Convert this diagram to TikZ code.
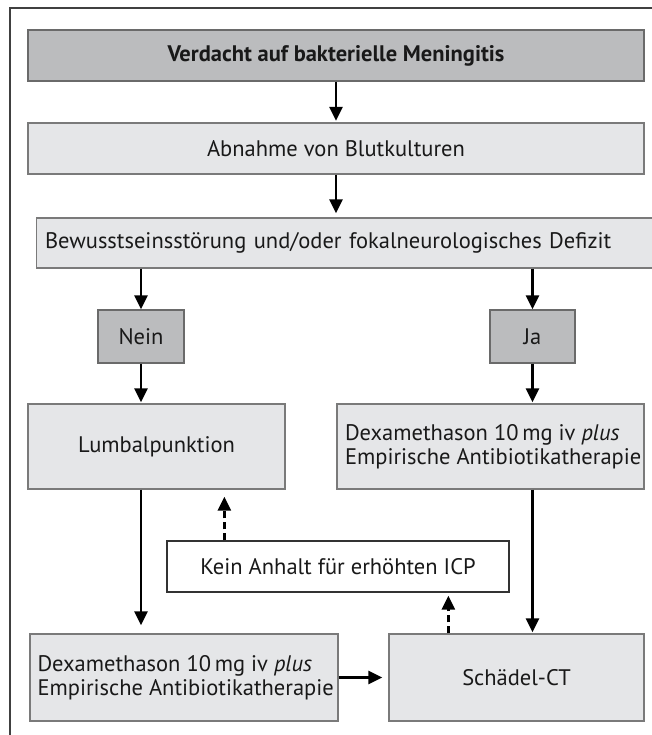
\documentclass[tikz,border=0pt]{standalone}
\usepackage{fontspec}
\setmainfont{PT Sans}
\usetikzlibrary{arrows.meta}
\definecolor{darkfill}{HTML}{BBBCBE}
\definecolor{lightfill}{HTML}{E5E6E8}
\definecolor{boxline}{HTML}{7A7A7A}
\definecolor{darkline}{HTML}{6A6A6A}
\tikzset{
  basebox/.style={draw=boxline, line width=1.3pt, inner sep=0pt, font=\fontsize{22.5}{24}\selectfont, text=black!90},
  darkbox/.style={basebox, fill=darkfill, draw=darkline},
  lightbox/.style={basebox, fill=lightfill},
  whitebox/.style={basebox, fill=white, draw=black!80},
  arr/.style={line width=2.6pt, -{Triangle[length=14pt,width=13pt]}},
  dasharr/.style={arr, dash pattern=on 7pt off 4pt},
}
\begin{document}
\begin{tikzpicture}[x=1pt,y=-1pt]
\useasboundingbox (0,0) rectangle (652,735);
% frame
\draw[line width=1.2pt, black!75] (10,735) -- (10,8) -- (652,8);
% boxes
\node[darkbox, minimum width=616pt, minimum height=51pt, font=\fontsize{22.5}{24}\selectfont\bfseries] (verd) at (336,55.5) {Verdacht auf bakterielle Meningitis};
\node[lightbox, minimum width=616pt, minimum height=51pt] (abn) at (336,148.5) {Abnahme von Blutkulturen};
\node[lightbox, minimum width=616pt, minimum height=50pt, text width=599pt, align=left] (bew) at (336+8.5,243) {Bewusstseinsstörung und/oder fokalneurologisches Defizit};
\node[darkbox, minimum width=86pt, minimum height=53pt] (nein) at (141,336.5) {Nein};
\node[darkbox, minimum width=85pt, minimum height=53pt] (ja) at (532.5,336.5) {Ja};
\node[lightbox, minimum width=257pt, minimum height=85pt] (lumb) at (156.5,446.5) {Lumbalpunktion};
\node[lightbox, minimum width=307pt, minimum height=85pt, align=left] (dexa1) at (490.5,446.5) {\makebox[291pt][l]{Dexamethason 10\,mg iv \textit{plus}}\\\makebox[291pt][l]{Empirische Antibiotikatherapie}};
\node[whitebox, minimum width=342pt, minimum height=51pt] (kein) at (338,566.5) {Kein Anhalt für erhöhten ICP};
\node[lightbox, minimum width=308pt, minimum height=87pt, align=left] (dexa2) at (184,677.5) {\makebox[293pt][l]{Dexamethason 10\,mg iv \textit{plus}}\\\makebox[293pt][l]{Empirische Antibiotikatherapie}};
\node[lightbox, minimum width=255pt, minimum height=87pt] (ct) at (516.5,677.5) {Schädel-CT};
% connectors
\draw[arr, shorten >=1.5pt] (verd.south) -- (abn.north);
\draw[arr, shorten >=4pt] (abn.south) -- (abn.south |- bew.north);
\draw[arr, shorten >=0pt] (bew.south -| nein.north) -- (nein.north);
\draw[arr, shorten >=0pt] (bew.south -| ja.north) -- (ja.north);
\draw[arr, shorten >=1pt] (nein.south) -- (nein.south |- lumb.north);
\draw[arr, shorten >=1pt] (ja.south) -- (ja.south |- dexa1.north);
\draw[arr, shorten >=8pt] (lumb.south -| nein.south) -- (nein.south |- dexa2.north);
\draw[arr, shorten >=1pt] (dexa1.south -| ja.south) -- (ja.south |- ct.north);
\draw[arr, shorten >=6pt] (dexa2.east) -- (ct.west);
\draw[dasharr, shorten >=7pt] ([xshift=58pt]kein.north west) -- ([xshift=58pt]kein.north west |- lumb.south);
\draw[dasharr, shorten >=3pt] ([xshift=60pt]ct.north west) -- ([xshift=60pt]ct.north west |- kein.south);
\end{tikzpicture}
\end{document}
